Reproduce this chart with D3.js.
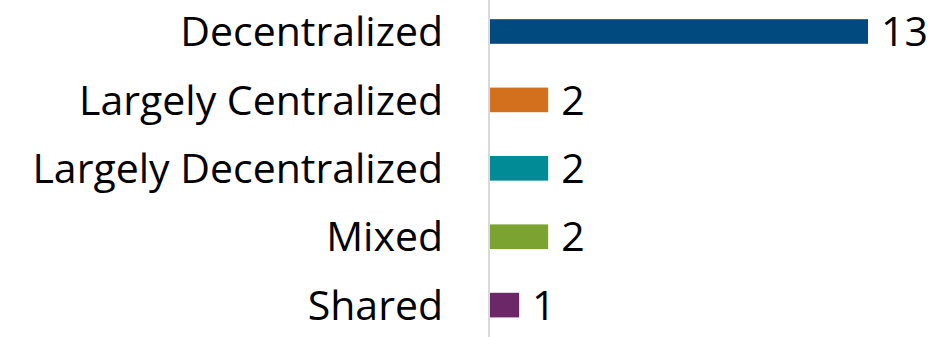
<!DOCTYPE html>
<html>
<head>
<meta charset="utf-8">
<script src="https://cdn.jsdelivr.net/npm/d3@7"></script>
<style>
  body { margin: 0; background: #fff; }
  svg text { font-family: "Open Sans", "Lato", sans-serif; fill: #000; }
</style>
</head>
<body>
<svg class="chart" width="947" height="337"></svg>
<script>
const categories = ["Decentralized", "Largely Centralized", "Largely Decentralized", "Mixed", "Shared"]
const counts = [13, 2, 2, 2, 1]
const colors = ["#004a80", "#d2701e", "#008b96", "#7ba332", "#6c2769"]

const svg = d3.select("svg.chart")

const x = d3.scaleLinear()
  .domain([0, 13])
  .range([490, 868])

const y = d3.scaleBand()
  .domain(categories)
  .range([-2.7, 339.3])
  .paddingInner(0.64)
  .paddingOuter(0.32)

// axis line on the left
svg.append("line")
  .attr("x1", 489).attr("x2", 489)
  .attr("y1", 0).attr("y2", 337)
  .attr("stroke", "#d9d9d9")
  .attr("stroke-width", 2)

const rows = svg.selectAll("g.row")
  .data(categories)
  .enter()
  .append("g")
  .attr("class", "row")

rows.append("rect")
  .attr("x", x(0))
  .attr("y", d => y(d))
  .attr("width", (d, i) => x(counts[i]) - x(0))
  .attr("height", y.bandwidth())
  .attr("fill", (d, i) => colors[i])

rows.append("text")
  .attr("x", 443)
  .attr("y", d => y(d) + y.bandwidth() / 2)
  .attr("dy", "0.36em")
  .attr("text-anchor", "end")
  .style("font-size", "41px")
  .text(d => d)

rows.append("text")
  .attr("x", (d, i) => x(counts[i]) + 13)
  .attr("y", d => y(d) + y.bandwidth() / 2)
  .attr("dy", "0.36em")
  .style("font-size", "41px")
  .text((d, i) => counts[i])
</script>
</body>
</html>
